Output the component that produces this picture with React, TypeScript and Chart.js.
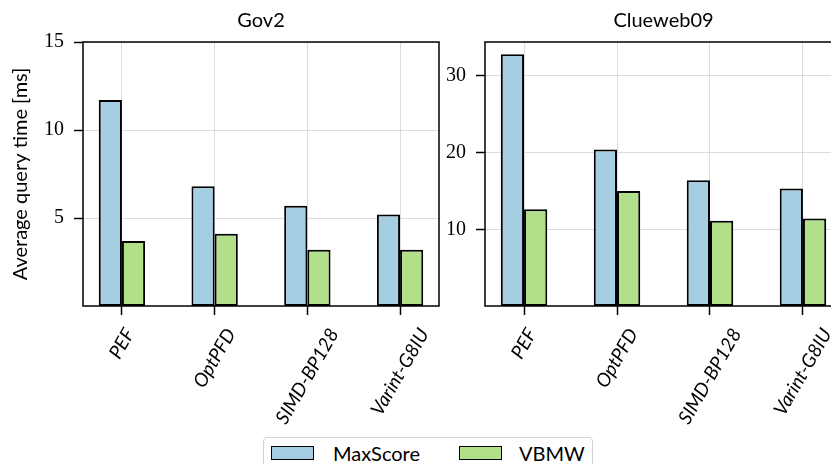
import React, { useEffect, useRef } from 'react';
import { Chart, registerables } from 'chart.js';

Chart.register(...registerables);
Chart.defaults.color = '#000';

// ---- data ----
const categories = ['PEF', 'OptPFD', 'SIMD-BP128', 'Varint-G8IU'];
const seriesNames = ['MaxScore', 'VBMW'];
const seriesColors = ['#a6cee3', '#b2df8a'];
const gov2MaxScore = [11.7, 6.8, 5.7, 5.2];
const gov2VBMW = [3.7, 4.1, 3.2, 3.2];
const clueMaxScore = [32.8, 20.4, 16.4, 15.3];
const clueVBMW = [12.6, 15.0, 11.1, 11.4];
const gov2Ticks = [5, 10, 15];
const clueTicks = [10, 20, 30];
const yLabel = 'Average query time [ms]';

const SANS = 'Lato, "Open Sans", sans-serif';
const SERIF = '"Liberation Serif", "DejaVu Serif", serif';

type PanelProps = {
  title: string;
  series: number[][];
  ticks: number[];
  yMax: number;
  showYLabel: boolean;
  left: number;
  width: number;
  yAxisWidth: number;
  padRight: number;
};

function Panel(p: PanelProps) {
  const ref = useRef<HTMLCanvasElement | null>(null);
  useEffect(() => {
    const canvas = ref.current!;
    const framePlugin = {
      id: 'frameAndLabels',
      afterDraw(chart: any) {
        const { ctx, chartArea } = chart;
        ctx.save();
        // frame
        ctx.strokeStyle = '#000';
        ctx.lineWidth = 1.5;
        ctx.strokeRect(chartArea.left, chartArea.top, chartArea.right - chartArea.left, chartArea.bottom - chartArea.top);
        // title
        ctx.fillStyle = '#000';
        ctx.font = `20px ${SANS}`;
        ctx.textAlign = 'center';
        ctx.textBaseline = 'alphabetic';
        ctx.fillText(p.title, (chartArea.left + chartArea.right) / 2, 26.5);
        // rotated category labels (centered like matplotlib ha=center)
        const xs = chart.scales.x;
        ctx.font = `italic 19px ${SANS}`;
        const ang = Math.PI / 3;
        const h = 13;
        const top = 327;
        categories.forEach((lab, i) => {
          const x = xs.getPixelForValue(i);
          const w = ctx.measureText(lab).width;
          const bh = w * Math.sin(ang) + h * Math.cos(ang);
          const cy = top + bh / 2;
          ctx.save();
          ctx.translate(x, cy);
          ctx.rotate(-ang);
          ctx.textAlign = 'center';
          ctx.textBaseline = 'middle';
          ctx.fillText(lab, 0, 0);
          ctx.restore();
        });
        ctx.restore();
      },
    };
    const chart = new Chart(canvas, {
      type: 'bar',
      data: {
        datasets: p.series.map((vals, si) => ({
          label: seriesNames[si],
          data: vals.map((v, i) => ({ x: i, y: v })),
          backgroundColor: seriesColors[si],
          borderColor: '#000',
          borderWidth: 2,
          borderSkipped: false,
          categoryPercentage: 0.5,
          barPercentage: 1,
        })),
      },
      options: {
        responsive: false,
        animation: false,
        devicePixelRatio: 1,
        layout: { padding: { top: 42, right: p.padRight, left: 0, bottom: 0 } },
        plugins: { legend: { display: false }, tooltip: { enabled: false }, title: { display: false } },
        scales: {
          x: {
            type: 'linear',
            min: -0.42,
            max: 3.42,
            offset: false,
            afterBuildTicks: (s: any) => {
              s.ticks = categories.map((_, i) => ({ value: i }));
            },
            afterFit: (s: any) => {
              s.height = 158;
            },
            grid: {
              offset: false,
              color: '#dcdcdc',
              lineWidth: 1,
              tickColor: '#000',
              tickLength: 9,
              tickWidth: 1.5,
              drawTicks: true,
            },
            border: { display: false },
            ticks: { display: false },
          },
          y: {
            type: 'linear',
            min: 0,
            max: p.yMax,
            afterBuildTicks: (s: any) => {
              s.ticks = p.ticks.map((v) => ({ value: v }));
            },
            afterFit: (s: any) => {
              s.width = p.yAxisWidth;
            },
            grid: { color: '#dcdcdc', lineWidth: 1, tickColor: '#000', tickLength: 9, tickWidth: 1.5, drawTicks: true },
            border: { display: false },
            ticks: { font: { family: SERIF, size: 20 }, color: '#000', padding: 10, callback: (v: any) => String(v) },
            title: {
              display: p.showYLabel,
              text: yLabel,
              font: { family: SANS, size: 20 },
              color: '#000',
              padding: { top: 9, bottom: 0 },
            },
          },
        },
      },
      plugins: [framePlugin],
    } as any);
    return () => chart.destroy();
  }, []);
  return (
    <canvas
      ref={ref}
      width={p.width}
      height={464}
      style={{ position: 'absolute', left: p.left, top: 0, width: p.width, height: 464 }}
    />
  );
}

function LegendItem({ color, label, left, textLeft }: { color: string; label: string; left: number; textLeft: number }) {
  return (
    <>
      <div
        style={{
          position: 'absolute',
          left,
          top: 446,
          width: 43,
          height: 14,
          boxSizing: 'border-box',
          background: color,
          border: '1.5px solid #000',
        }}
      />
      <div
        style={{
          position: 'absolute',
          left: textLeft,
          top: 441,
          font: `20px ${SANS}`,
          lineHeight: '24px',
          color: '#000',
          whiteSpace: 'nowrap',
        }}
      >
        {label}
      </div>
    </>
  );
}

export default function App() {
  return (
    <div
      style={{
        position: 'fixed',
        left: 0,
        top: 0,
        width: 831,
        height: 464,
        overflow: 'hidden',
        background: '#fff',
      }}
    >
      <Panel
        title="Gov2"
        series={[gov2MaxScore, gov2VBMW]}
        ticks={gov2Ticks}
        yMax={15}
        showYLabel={true}
        left={0}
        width={450}
        yAxisWidth={83}
        padRight={11}
      />
      <Panel
        title="Clueweb09"
        series={[clueMaxScore, clueVBMW]}
        ticks={clueTicks}
        yMax={34.4}
        showYLabel={false}
        left={400}
        width={460}
        yAxisWidth={85}
        padRight={18}
      />
      <div
        style={{
          position: 'absolute',
          left: 263,
          top: 437,
          width: 330,
          height: 40,
          boxSizing: 'border-box',
          border: '1px solid #d0d0d0',
          borderRadius: 4,
          background: '#fff',
        }}
      />
      <LegendItem color={seriesColors[0]} label={seriesNames[0]} left={271} textLeft={333} />
      <LegendItem color={seriesColors[1]} label={seriesNames[1]} left={459} textLeft={519} />
    </div>
  );
}
